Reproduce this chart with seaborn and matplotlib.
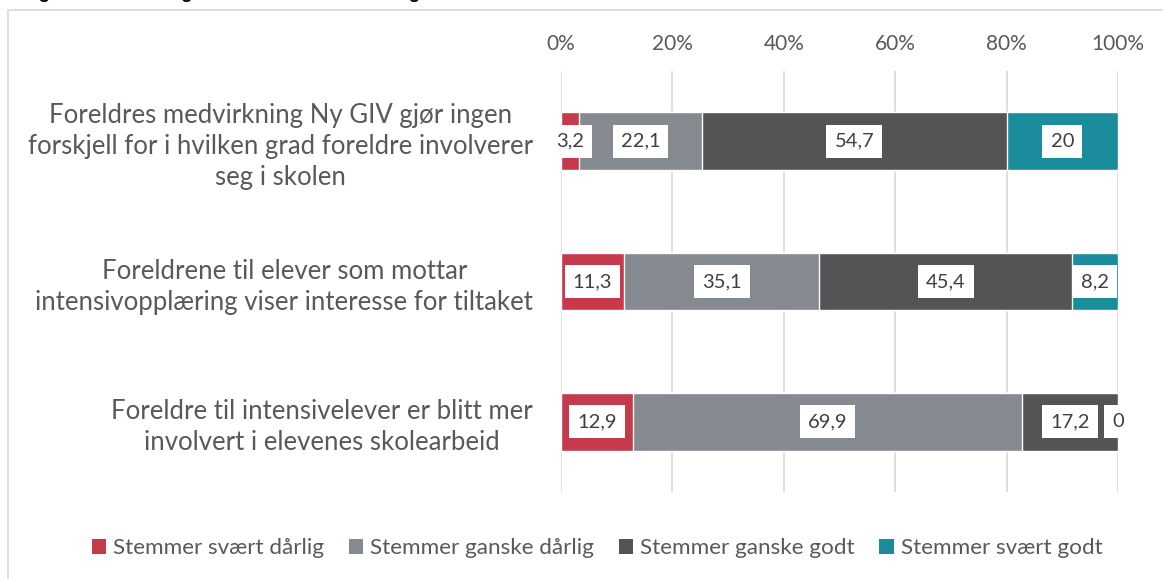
import numpy as np
import pandas as pd
import matplotlib
matplotlib.use("Agg")
import matplotlib.pyplot as plt
import seaborn as sns
from matplotlib.patches import Rectangle, Patch

categories = [
    "Foreldres medvirkning Ny GIV gjør ingen\nforskjell for i hvilken grad foreldre involverer\nseg i skolen",
    "Foreldrene til elever som mottar\nintensivopplæring viser interesse for tiltaket",
    "Foreldre til intensivelever er blitt mer\ninvolvert i elevenes skolearbeid",
]
series_names = ["Stemmer svært dårlig", "Stemmer ganske dårlig",
                "Stemmer ganske godt", "Stemmer svært godt"]
svaert_darlig = [3.2, 11.3, 12.9]
ganske_darlig = [22.1, 35.1, 69.9]
ganske_godt = [54.7, 45.4, 17.2]
svaert_godt = [20, 8.2, 0]
colors = ["#C63B4C", "#858990", "#545454", "#1A8C9C"]
tick_labels = ["0%", "20%", "40%", "60%", "80%", "100%"]

series = [svaert_darlig, ganske_darlig, ganske_godt, svaert_godt]
values = np.array(series, dtype=float)
cum = np.cumsum(values, axis=0)

sns.set_theme(style="white")
plt.rcParams["font.family"] = ["Lato", "DejaVu Sans"]
text_color = "#595959"

fig = plt.figure(figsize=(11.63, 5.79), dpi=100)
ax = fig.add_axes([561/1163, 1-492/579, (1118-561)/1163, (492-71)/579])

# outer frame
fig.patches.append(Rectangle((8/1163, -0.1), 1.2, 1-10/579+0.1, transform=fig.transFigure,
                             fill=False, edgecolor="#D9D9D9", linewidth=1.2, zorder=0))
# title, mostly above the visible area as in the reference
fig.text(22/1163, 1+2.5/579, "Figur 6.5 Vurdering av foreldres medvirkning", fontsize=13.5,
         fontweight="bold", family=["Liberation Sans"], color="black", va="baseline", ha="left")

for i in range(len(series) - 1, -1, -1):
    df = pd.DataFrame({"cat": categories, "val": cum[i]})
    sns.barplot(data=df, x="val", y="cat", orient="h", color=colors[i], saturation=1,
                width=0.41, ax=ax, zorder=2)

ax.set_xlim(0, 100)
ax.set_ylim(2.5, -0.5)
ax.set_xticks(np.linspace(0, 100, len(tick_labels)))
ax.set_xticklabels(tick_labels)
ax.xaxis.tick_top()
ax.tick_params(axis="x", length=0, pad=12, labelsize=15, labelcolor=text_color)
ax.tick_params(axis="y", length=0, pad=20, labelsize=18.5, labelcolor=text_color)
for lab in ax.get_yticklabels():
    lab.set_multialignment("center")
    lab.set_linespacing(1.3)
ax.set_xlabel("")
ax.set_ylabel("")
ax.grid(axis="x", color="#D9D9D9", linewidth=1.2, zorder=0)
ax.set_axisbelow(True)
for s in ax.spines.values():
    s.set_visible(False)

for i in range(len(series)):
    for j in range(len(categories)):
        v = values[i, j]
        center = cum[i, j] - v / 2
        txt = f"{v:g}".replace(".", ",")
        ax.text(center, j, txt, ha="center", va="center", fontsize=14.5, color="#404040",
                zorder=5,
                bbox=dict(boxstyle="square,pad=0.4", facecolor="white", edgecolor="none"))

handles = [Patch(facecolor=c, edgecolor="none") for c in colors]
fig.legend(handles, series_names, loc="center", bbox_to_anchor=(597/1163, 1-548/579),
           ncol=4, frameon=False, fontsize=16.2, labelcolor=text_color,
           handlelength=0.65, handleheight=0.65, handletextpad=0.3, columnspacing=1.1)

fig.savefig("out.png", dpi=100)
